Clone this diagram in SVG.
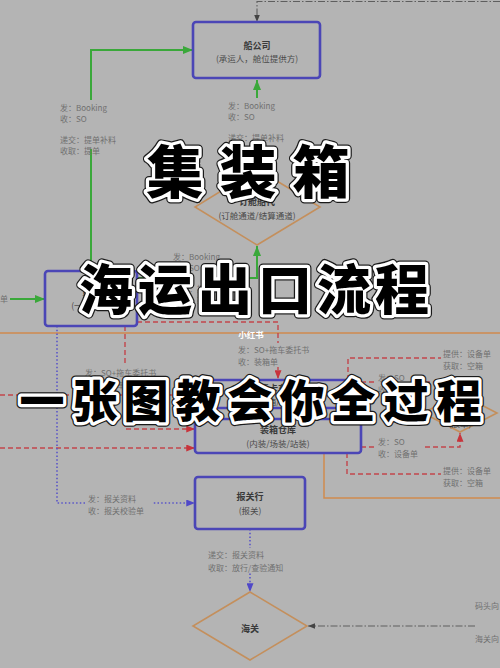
<svg xmlns="http://www.w3.org/2000/svg" width="500" height="668" viewBox="0 0 500 668">
<defs>
<style>
.bg{fill:#b4b4b4}
.box{fill:none;stroke:#4b46b6;stroke-width:2.6}
.dia{fill:none;stroke:#c48f5c;stroke-width:1.6}
.g{fill:none;stroke:#3aa83a;stroke-width:2}
.r{fill:none;stroke:#c2454b;stroke-width:1.4;stroke-dasharray:5 3}
.p{fill:none;stroke:#5a55c8;stroke-width:1.6;stroke-dasharray:1.5 2.2}
.o{fill:none;stroke:#d08a4e;stroke-width:1.5}
.k{fill:none;stroke:#5e5e5e;stroke-width:1.1;stroke-dasharray:7 2 1.5 2}
.t{font-family:"Noto Sans CJK SC","Liberation Sans",sans-serif;font-size:8.5px;fill:#4a4a4a;text-anchor:middle}
.tb{font-weight:bold;fill:#3a3a3a;font-size:9px}
.lb{font-family:"Noto Sans CJK SC","Liberation Sans",sans-serif;font-size:8px;fill:#707070}
.msk{fill:#b4b4b4}
.big{font-family:"Noto Sans CJK SC",sans-serif;font-weight:900;text-anchor:middle;fill:#000}
.o1{stroke:#1a1a1a;stroke-width:9;stroke-linejoin:round}
.o2{stroke:#fff;stroke-width:6.5;stroke-linejoin:round;paint-order:stroke}
</style>
<marker id="ag" viewBox="0 0 10 8" refX="10" refY="4" markerWidth="10" markerHeight="8" markerUnits="userSpaceOnUse" orient="auto"><path d="M0,0 L10,4 L0,8 z" fill="#3aa83a"/></marker>
<marker id="ar" viewBox="0 0 10 8" refX="10" refY="4" markerWidth="9" markerHeight="7" markerUnits="userSpaceOnUse" orient="auto"><path d="M0,0 L10,4 L0,8 z" fill="#c8343c"/></marker>
<marker id="ap" viewBox="0 0 10 8" refX="10" refY="4" markerWidth="9" markerHeight="7" markerUnits="userSpaceOnUse" orient="auto"><path d="M0,0 L10,4 L0,8 z" fill="#5048c8"/></marker>
<marker id="ak" viewBox="0 0 10 8" refX="10" refY="4" markerWidth="7" markerHeight="6" markerUnits="userSpaceOnUse" orient="auto"><path d="M0,0 L10,4 L0,8 z" fill="#444"/></marker>
</defs>
<rect class="bg" x="0" y="0" width="500" height="668"/>

<g id="connectors">
<path class="k" d="M500,1.5 H257 V22" marker-end="url(#ak)"/>
<path class="g" d="M91,271 V50 H193" marker-end="url(#ag)"/>
<path class="g" d="M257,169 V80" marker-end="url(#ag)"/>
<path class="g" d="M137,278 H257 V246" marker-end="url(#ag)"/>
<path class="g" d="M10,299 H45" marker-end="url(#ag)"/>
<path class="o" d="M0,333 H500"/>
<path class="r" d="M137,322 H278 V379" marker-end="url(#ar)"/>
<path class="r" d="M125,326 V429 H195" marker-end="url(#ar)"/>
<path class="r" d="M0,395 H195" marker-end="url(#ar)"/>
<path class="r" d="M0,448 H195" marker-end="url(#ar)"/>
<path class="r" d="M361,382 H460 V393" marker-end="url(#ar)"/>
<path class="r" d="M348,380 V358 H500"/>
<path class="r" d="M361,447 H460 V433" marker-end="url(#ar)"/>
<path class="r" d="M347,453 V474 H500"/>
<path class="o" d="M324,453 V498 H500"/>
<path class="p" d="M57,326 V503 H195" marker-end="url(#ap)"/>
<path class="p" d="M250,529 V592" marker-end="url(#ap)"/>
<path class="k" d="M475,626 H308" marker-end="url(#ak)"/>
</g>

<g id="labels">
<rect class="msk" x="58" y="100" width="66" height="49"/>
<text class="lb" x="60" y="111">发：Booking</text>
<text class="lb" x="60" y="122">收：SO</text>
<text class="lb" x="60" y="143">递交：提单补料</text>
<text class="lb" x="60" y="154">收取：提单</text>
<rect class="msk" x="226" y="98" width="66" height="54"/>
<text class="lb" x="228" y="109">发：Booking</text>
<text class="lb" x="228" y="120">收：SO</text>
<text class="lb" x="228" y="141">递交：提单补料</text>
<text class="lb" x="228" y="152">收取：提单</text>
<rect class="msk" x="171" y="250" width="69" height="53"/>
<text class="lb" x="173" y="260">发：Booking</text>
<text class="lb" x="173" y="271">收：SO</text>
<text class="lb" x="173" y="292">递交：提单补料</text>
<text class="lb" x="173" y="303">收取：提单</text>
<text class="lb" x="0" y="302">单</text>
<rect class="msk" x="236" y="343" width="84" height="24"/>
<text class="lb" x="238" y="353">发：SO+拖车委托书</text>
<text class="lb" x="238" y="365">收：装箱单</text>
<rect class="msk" x="83" y="365" width="84" height="24"/>
<text class="lb" x="85" y="376">发：SO+拖车委托书</text>
<text class="lb" x="85" y="388">收：装箱单</text>
<rect class="msk" x="376" y="372" width="46" height="22"/>
<text class="lb" x="378" y="381">发：SO</text>
<text class="lb" x="378" y="393">收：设备单</text>
<rect class="msk" x="441" y="348" width="59" height="22"/>
<text class="lb" x="443" y="357">提供：设备单</text>
<text class="lb" x="443" y="369">获取：空箱</text>
<rect class="msk" x="376" y="436" width="46" height="22"/>
<text class="lb" x="378" y="445">发：SO</text>
<text class="lb" x="378" y="457">收：设备单</text>
<rect class="msk" x="441" y="464" width="59" height="22"/>
<text class="lb" x="443" y="474">提供：设备单</text>
<text class="lb" x="443" y="486">获取：空箱</text>
<rect class="msk" x="86" y="492" width="66" height="23"/>
<text class="lb" x="88" y="502">发：报关资料</text>
<text class="lb" x="88" y="514">收：报关校验单</text>
<rect class="msk" x="206" y="548" width="88" height="24"/>
<text class="lb" x="208" y="558">递交：报关资料</text>
<text class="lb" x="208" y="571">收取：放行/查验通知</text>
<text class="lb" x="475" y="609">码头向</text>
<text class="lb" x="475" y="642">海关向</text>
</g>

<g id="n-chuangongsi">
<rect class="box" x="193" y="22" width="127" height="56" rx="3"/>
<text class="t tb" x="257" y="49">船公司</text>
<text class="t" x="257" y="62">(承运人，舱位提供方)</text>
</g>
<g id="n-dingcang">
<polygon class="dia" points="257,169 320,207 257,245 195,207"/>
<text class="t tb" x="257" y="205">订舱船代</text>
<text class="t" x="257" y="219">(订舱通道/结算通道)</text>
</g>
<g id="n-huodai">
<rect class="box" x="45" y="271" width="92" height="55" rx="3"/>
<text class="t tb" x="91" y="295">货代</text>
<text class="t" x="91" y="309">(一级货代)</text>
</g>
<g id="n-jika">
<rect class="box" x="195" y="380" width="166" height="28" rx="3"/>
<text class="t tb" x="278" y="392">集卡车队</text>
<text class="t" x="278" y="405">(提箱/装箱)</text>
</g>
<g id="n-zhuangxiang">
<rect class="box" x="195" y="419" width="166" height="34" rx="3"/>
<text class="t tb" x="278" y="433">装箱仓库</text>
<text class="t" x="278" y="447">(内装/场装/站装)</text>
</g>
<g id="n-fangdan">
<polygon class="dia" points="460,394 497,413 460,432 423,413"/>
<text class="t" x="460" y="427">(放单)</text>
</g>
<g id="n-baoguanhang">
<rect class="box" x="195" y="477" width="110" height="52" rx="3"/>
<text class="t tb" x="250" y="500">报关行</text>
<text class="t" x="250" y="514">(报关)</text>
</g>
<g id="n-haiguan">
<polygon class="dia" points="250,592 307,626 250,660 193,626"/>
<text class="t tb" x="250" y="632">海关</text>
</g>

<text x="251" y="338" font-family="Noto Sans CJK SC,sans-serif" font-size="8.5" font-weight="bold" fill="#fff" text-anchor="middle">小红书</text>

<g id="title">
<text class="big o1" font-size="57" x="175 248 321" y="193">集装箱</text>
<text class="big o2" font-size="57" x="175 248 321" y="193">集装箱</text>
<text class="big o1" font-size="54" x="106 165 225 285 344 402" y="310">海运出口流程</text>
<text class="big o2" font-size="54" x="106 165 225 285 344 402" y="310">海运出口流程</text>
<text class="big o1" font-size="45" x="42 95 146 198 250 302 353 406 459" y="418">一张图教会你全过程</text>
<text class="big o2" font-size="45" x="42 95 146 198 250 302 353 406 459" y="418">一张图教会你全过程</text>
</g>
</svg>
